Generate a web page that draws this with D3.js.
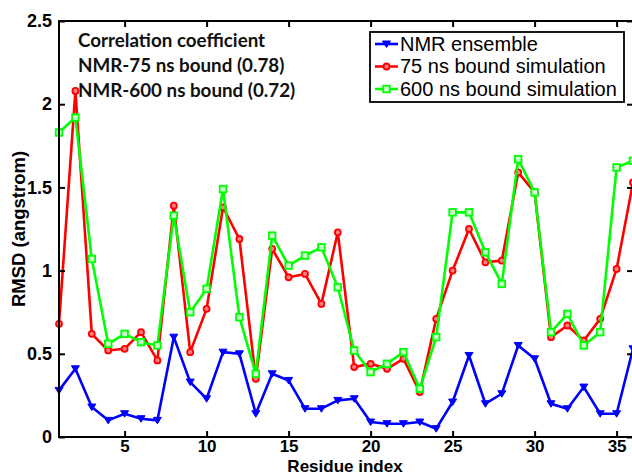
<!DOCTYPE html>
<html>
<head>
<meta charset="utf-8">
<script src="https://cdn.jsdelivr.net/npm/d3@7"></script>
<style>
  body { margin: 0; background: #fff; overflow: hidden; }
  svg { display: block; }
</style>
</head>
<body>
<div id="chart"></div>
<script>
// Data
var residues = d3.range(1, 37)
var nmrEnsemble = [0.28, 0.41, 0.18, 0.10, 0.14, 0.11, 0.10, 0.60, 0.33, 0.23,
  0.51, 0.50, 0.14, 0.38, 0.34, 0.17, 0.17, 0.22, 0.23, 0.09,
  0.08, 0.08, 0.09, 0.05, 0.21, 0.49, 0.20, 0.26, 0.55, 0.47,
  0.20, 0.17, 0.30, 0.14, 0.14, 0.53]
var bound75 = [0.68, 2.08, 0.62, 0.52, 0.53, 0.63, 0.46, 1.39, 0.51, 0.77,
  1.38, 1.19, 0.35, 1.13, 0.96, 0.98, 0.80, 1.23, 0.42, 0.44,
  0.41, 0.47, 0.27, 0.71, 1.00, 1.25, 1.05, 1.06, 1.59, 1.47,
  0.60, 0.67, 0.58, 0.71, 1.01, 1.53]
var bound600 = [1.83, 1.92, 1.07, 0.56, 0.62, 0.57, 0.55, 1.33, 0.75, 0.89,
  1.49, 0.72, 0.38, 1.21, 1.03, 1.09, 1.14, 0.90, 0.52, 0.39,
  0.44, 0.51, 0.29, 0.60, 1.35, 1.35, 1.11, 0.92, 1.67, 1.47,
  0.63, 0.74, 0.55, 0.63, 1.62, 1.66]
var xTicks = [5, 10, 15, 20, 25, 30, 35]
var yTicks = [0, 0.5, 1, 1.5, 2, 2.5]
var seriesNames = ["NMR ensemble", "75 ns bound simulation", "600 ns bound simulation"]
var seriesColors = ["#0000ff", "#ff0000", "#00ff00"]
var noteLines = ["Correlation coefficient", "NMR-75 ns bound (0.78)", "NMR-600 ns bound (0.72)"]

var width = 632, height = 475
var padLeft = 59, padRight = 633, padTop = 21, padBottom = 437

var svg = d3.select('#chart').append('svg')
  .attr('width', width)
  .attr('height', height)

var x = d3.scaleLinear().domain([1, 36]).range([padLeft, padRight])
var y = d3.scaleLinear().domain([0, 2.5]).range([padBottom, padTop])

var font = "'Liberation Sans', Arial, sans-serif"

// Series
var series = [nmrEnsemble, bound75, bound600]
var line = d3.line().x((d, i) => x(residues[i])).y(d => y(d))

var plot = svg.append('g')

function drawMarker(g, k, cx, cy) {
  if (k === 0) {
    g.append('path')
      .attr('d', `M${cx - 4},${cy - 3}L${cx + 4},${cy - 3}L${cx},${cy + 3.5}Z`)
      .attr('fill', seriesColors[0]).attr('stroke', seriesColors[0]).attr('stroke-width', 1)
  } else if (k === 1) {
    g.append('circle').attr('cx', cx).attr('cy', cy).attr('r', 3)
      .attr('fill', '#ff8080').attr('stroke', seriesColors[1]).attr('stroke-width', 1.8)
  } else {
    g.append('rect').attr('x', cx - 3.3).attr('y', cy - 3.3).attr('width', 6.6).attr('height', 6.6)
      .attr('fill', '#c8ffc8').attr('stroke', seriesColors[2]).attr('stroke-width', 1.8)
  }
}

series.forEach(function (s, k) {
  plot.append('path')
    .datum(s)
    .attr('d', line)
    .attr('fill', 'none')
    .attr('stroke', seriesColors[k])
    .attr('stroke-width', 2.6)
    .attr('stroke-linejoin', 'round')
  var mg = plot.append('g')
  s.forEach((v, i) => drawMarker(mg, k, x(residues[i]), y(v)))
})

// Box and axes (MATLAB style, ticks inward)
svg.append('path')
  .attr('d', `M${padLeft},${padTop}L${padRight},${padTop}L${padRight},${padBottom}L${padLeft},${padBottom}Z`)
  .attr('fill', 'none').attr('stroke', '#000').attr('stroke-width', 2)

var xAxis = svg.append('g').attr('transform', `translate(0,${padBottom})`)
  .call(d3.axisBottom(x).tickValues(xTicks).tickSize(-6).tickPadding(3).tickFormat(d3.format('d')))
var xAxisTop = svg.append('g').attr('transform', `translate(0,${padTop})`)
  .call(d3.axisTop(x).tickValues(xTicks).tickSize(-6).tickFormat(''))
var yAxis = svg.append('g').attr('transform', `translate(${padLeft},0)`)
  .call(d3.axisLeft(y).tickValues(yTicks).tickSize(-6).tickPadding(7).tickFormat(d3.format('')))
var yAxisRight = svg.append('g').attr('transform', `translate(${padRight},0)`)
  .call(d3.axisRight(y).tickValues(yTicks).tickSize(-6).tickFormat(''))

;[xAxis, xAxisTop, yAxis, yAxisRight].forEach(function (a) {
  a.select('.domain').remove()
  a.selectAll('line').attr('stroke', '#000').attr('stroke-width', 2)
  a.selectAll('text')
    .attr('font-family', font)
    .attr('font-size', 18)
    .attr('font-weight', 'bold')
    .attr('fill', '#000')
})
xAxis.selectAll('text').attr('font-size', 17)

// Axis titles
svg.append('text')
  .attr('x', 345).attr('y', 471.5)
  .attr('text-anchor', 'middle')
  .attr('font-family', font).attr('font-size', 17).attr('font-weight', 'bold')
  .text('Residue index')

svg.append('text')
  .attr('transform', 'translate(25,229)rotate(-90)')
  .attr('text-anchor', 'middle')
  .attr('font-family', font).attr('font-size', 18.5).attr('font-weight', 'bold')
  .text('RMSD (angstrom)')

// Correlation note
var note = svg.append('g')
noteLines.forEach(function (t, i) {
  note.append('text')
    .attr('x', 78).attr('y', 47 + i * 25)
    .attr('font-family', "Lato, 'Open Sans', sans-serif")
    .attr('font-size', 18.8).attr('font-weight', 'bold')
    .attr('fill', '#111')
    .text(t)
})

// Legend
var legend = svg.append('g')
legend.append('rect')
  .attr('x', 370).attr('y', 32).attr('width', 254).attr('height', 70)
  .attr('fill', '#fff').attr('stroke', '#000').attr('stroke-width', 1.8)
seriesNames.forEach(function (name, k) {
  var ly = 44 + k * 22.5
  legend.append('line')
    .attr('x1', 375).attr('x2', 398).attr('y1', ly).attr('y2', ly)
    .attr('stroke', seriesColors[k]).attr('stroke-width', 2.6)
  drawMarker(legend, k, 386.5, ly)
  legend.append('text')
    .attr('x', 400).attr('y', ly + 6.5)
    .attr('font-family', font).attr('font-size', 20)
    .attr('fill', '#000')
    .text(name)
})
</script>
</body>
</html>
